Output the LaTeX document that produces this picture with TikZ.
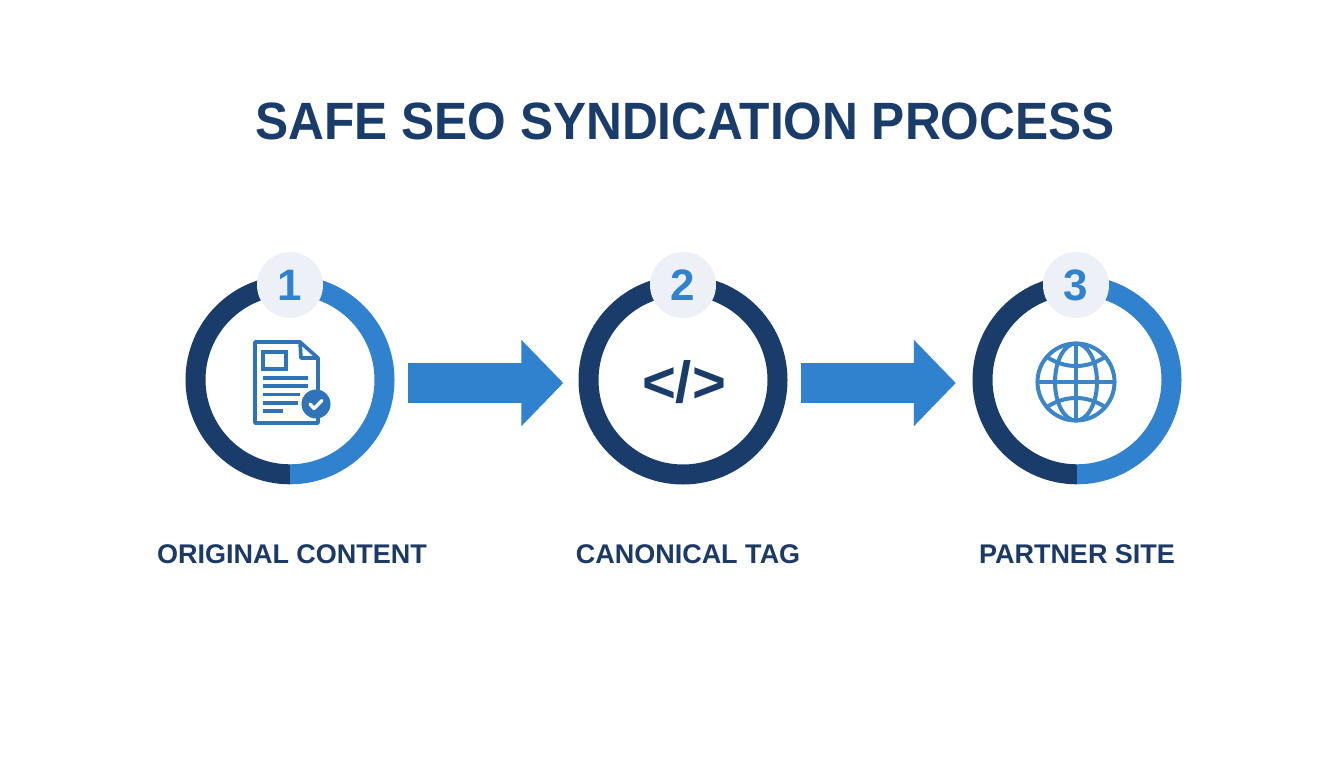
\documentclass[tikz,border=0pt]{standalone}
\usepackage{fontspec}
\usepackage{graphicx}
\setmainfont{Liberation Sans}
\usetikzlibrary{arrows.meta}
\definecolor{navy}{HTML}{1A3C6B}
\definecolor{blue}{HTML}{3182CE}
\definecolor{docblue}{HTML}{2F74B8}
\definecolor{globeblue}{HTML}{3B85C8}
\definecolor{badge}{HTML}{EDF1F7}
\definecolor{labelnavy}{HTML}{1C3A66}
\tikzset{
  ringnode/.style={circle,minimum size=209bp,inner sep=0pt},
  ringarc/.style={line width=20bp},
  badgenode/.style={circle,fill=badge,minimum size=66bp,inner sep=0pt,text=blue,font=\bfseries\fontsize{44bp}{44bp}\selectfont},
  blockarrow/.style={line width=40bp,blue,-{Triangle[length=42bp,width=84bp]}},
  titletext/.style={anchor=base,text=navy,inner sep=0pt,font=\bfseries\fontsize{52.5bp}{52.5bp}\selectfont},
  labeltext/.style={anchor=base,text=labelnavy,inner sep=0pt,font=\bfseries\fontsize{27bp}{27bp}\selectfont},
  icon/.style={docblue,line width=3.6bp,line cap=round,line join=round},
  iconthin/.style={globeblue,line width=4bp,line cap=round,line join=round},
}
\begin{document}
\begin{tikzpicture}[x=1bp,y=-1bp]
\useasboundingbox (0,0) rectangle (1344,768);
\fill[white] (0,0) rectangle (1344,768);
% title
\node[titletext] (title) at (685,139) {\scalebox{0.945}[1]{SAFE SEO SYNDICATION PROCESS}};
% rings
\node[ringnode] (ring1) at (290,380) {};
\node[ringnode] (ring2) at (683,380) {};
\node[ringnode] (ring3) at (1077,380) {};
\draw[ringarc,navy] ([yshift=-10bp]ring1.north) arc[start angle=90,delta angle=180,radius=94.5bp];
\draw[ringarc,blue] ([yshift=-10bp]ring1.north) arc[start angle=90,delta angle=-180,radius=94.5bp];
\draw[ringarc,navy] (ring2) circle[radius=94.5bp];
\draw[ringarc,navy] ([yshift=-10bp]ring3.north) arc[start angle=90,delta angle=180,radius=94.5bp];
\draw[ringarc,blue] ([yshift=-10bp]ring3.north) arc[start angle=90,delta angle=-180,radius=94.5bp];
% badges
\node[badgenode] (badge1) at (290,285) {1};
\node[badgenode] (badge2) at (683,285) {2};
\node[badgenode] (badge3) at (1076,285) {3};
% arrows
\draw[blockarrow,shorten <=13.5bp,shorten >=15bp] ([yshift=-3bp]ring1.east) -- ([yshift=-3bp]ring2.west);
\draw[blockarrow,shorten <=13.5bp,shorten >=16.5bp] ([yshift=-3bp]ring2.east) -- ([yshift=-3bp]ring3.west);
% document icon
\draw[icon] (300,342) -- (255,342) -- (255,423) -- (318,423) -- (318,358) -- cycle;
\draw[icon] (300,342) -- (301,358) -- (318,358);
\draw[icon,line join=miter] (263,352) rectangle (286,369);
\draw[icon,line cap=butt] (263,378) -- (308,378);
\draw[icon,line cap=butt] (263,386) -- (308,386);
\draw[icon,line cap=butt] (263,394.5) -- (300,394.5);
\draw[icon,line cap=butt] (263,403) -- (298,403);
\draw[icon,line cap=butt] (263,411) -- (283,411);
\fill[docblue] (316,404) circle[radius=14.5bp];
\draw[white,line width=3.4bp,line cap=round,line join=round] (310,404) -- (314,408.5) -- (322,400.5);
% code icon
\node[anchor=base,text=navy,inner sep=0pt,font=\bfseries\fontsize{58bp}{58bp}\selectfont] (code) at (684,402) {</>};
% globe icon
\draw[iconthin] (1076,382) circle[x radius=38.5bp,y radius=38.5bp];
\draw[iconthin] (1076,382) circle[x radius=21bp,y radius=38.5bp];
\draw[iconthin] (1076,343.5) -- (1076,420.5);
\draw[iconthin] (1037.5,382) -- (1114.5,382);
\draw[iconthin] (1047,357) .. controls (1065,369) and (1087,369) .. (1105,357);
\draw[iconthin] (1047,407) .. controls (1065,395) and (1087,395) .. (1105,407);
% labels
\node[labeltext] (label1) at (292,563) {ORIGINAL CONTENT};
\node[labeltext] (label2) at (688,563) {CANONICAL TAG};
\node[labeltext] (label3) at (1077,563) {PARTNER SITE};
\end{tikzpicture}
\end{document}
